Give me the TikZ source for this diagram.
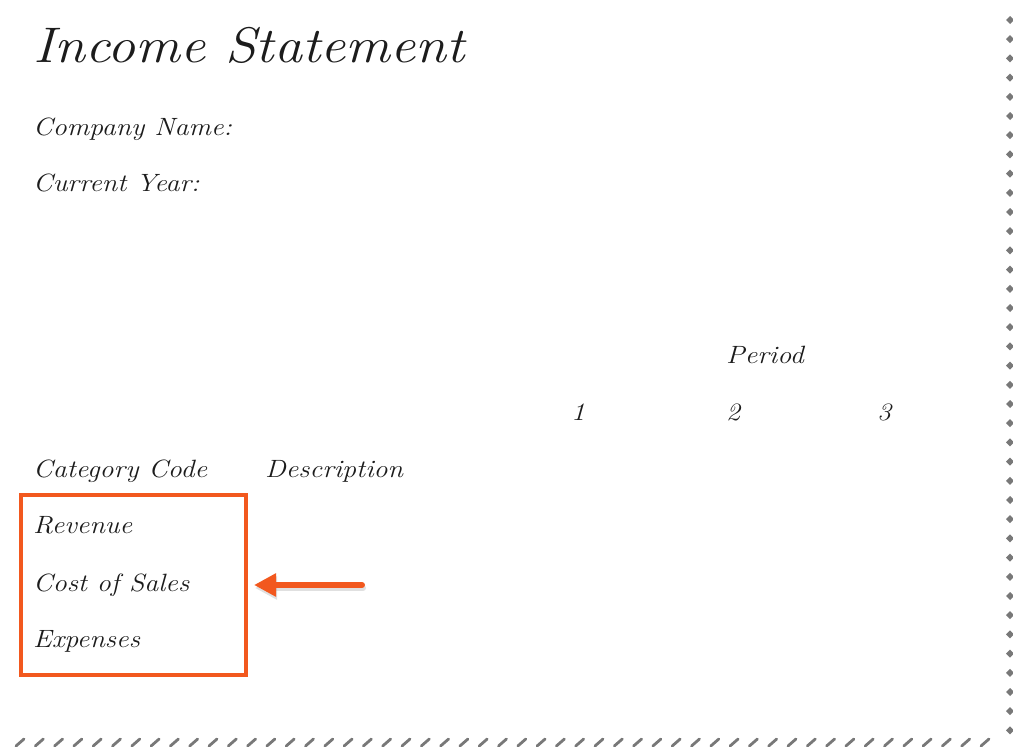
\documentclass[tikz,border=0pt]{standalone}
\usepackage{graphicx}
\usetikzlibrary{arrows.meta}

\definecolor{inkgray}{RGB}{28,28,28}
\definecolor{accent}{RGB}{242,88,30}
\definecolor{tornedge}{RGB}{120,120,120}
\newcommand{\handtxt}[1]{\scalebox{1.12}[1]{#1}}

\tikzset{
    lbl/.style={anchor=base west, inner sep=0pt, text=inkgray,
        font=\itshape\fontsize{25}{30}\selectfont},
    titlelbl/.style={lbl, font=\itshape\fontsize{50}{60}\selectfont},
    numlbl/.style={lbl, anchor=base},
    pointer/.style={accent, line width=6pt, line cap=round, shorten >=6pt,
        -{Triangle[length=22pt 0 0, width=22pt 0 0]}}
}

\begin{document}
\begin{tikzpicture}[x=1pt, y=-1pt]
    \useasboundingbox (0,0) rectangle (1013,747);
    \fill[white] (0,0) rectangle (1013,747);
    \clip (0,0) rectangle (1013,747);
    \node[titlelbl] (title) at (33,62) {\handtxt{Income Statement}};
    \node[lbl] (company) at (33,135) {\handtxt{Company Name:}};
    \node[lbl] (year) at (33,191) {\handtxt{Current Year:}};
    \node[lbl] (period) at (726,363) {\handtxt{Period}};
    \node[numlbl] (p1) at (578,420) {\handtxt{1}};
    \node[numlbl] (p2) at (733,420) {\handtxt{2}};
    \node[numlbl] (p3) at (884,420) {\handtxt{3}};
    \node[lbl] (catcode) at (33,477) {\handtxt{Category Code}};
    \node[lbl] (desc) at (265,477) {\handtxt{Description}};
    \node[lbl] (revenue) at (33,533) {\handtxt{Revenue}};
    \node[lbl] (cos) at (33,591) {\handtxt{Cost of Sales}};
    \node[lbl] (expenses) at (33,647) {\handtxt{Expenses}};
    \node[draw=accent, line width=4pt, minimum width=225pt, minimum height=180pt] (box) at (133.5,585) {};
    \coordinate (tail) at (362,585);
    \draw[pointer, black!40, opacity=.3, transform canvas={shift={(1pt,-3pt)}}] (tail) to (box.east);
    \draw[pointer] (tail) to (box.east);
    \foreach \y in {20,39.2,...,745}
        \fill[tornedge] (1006,\y) -- (1010,\y-4) -- (1014,\y) -- (1010,\y+4) -- cycle;
    \foreach \x in {20,39.3,...,1000}
        \draw[tornedge, line width=2.8pt, line cap=round] (\x-4,746) -- (\x+4,739);
\end{tikzpicture}
\end{document}
